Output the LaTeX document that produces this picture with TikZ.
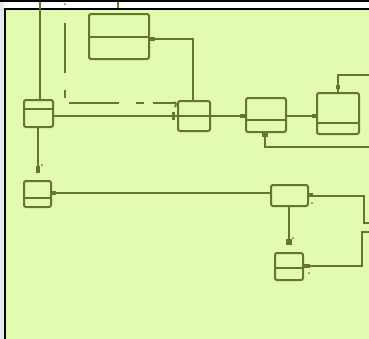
\documentclass[tikz,border=0pt]{standalone}
\usetikzlibrary{fit}
\definecolor{pane}{RGB}{226,251,176}
\definecolor{olive}{RGB}{98,118,44}
\definecolor{sidegray}{RGB}{232,232,232}
\tikzset{
  box/.style={draw=olive, line width=2bp, rounded corners=2bp, inner sep=0pt, fit={#1}},
  wire/.style={draw=olive, line width=1.9bp},
  dashwire/.style={draw=olive, line width=1.9bp, dash pattern=on 50bp off 17bp on 8bp off 9bp},
  tip/.style={fill=olive},
  speck/.style={fill=olive, circle, inner sep=0pt, minimum size=2bp}
}
\begin{document}
\begin{tikzpicture}[x=1bp, y=-1bp]
  \useasboundingbox (0,0) rectangle (369,339);
  % window frame
  \fill[white] (0,0) rectangle (369,339);
  \fill[sidegray] (0,2) rectangle (4,339);
  \fill[pane] (6,10) rectangle (369,339);
  \fill[black] (0,0) rectangle (369,2);
  \fill[black] (4,8) rectangle (369,10);
  \fill[black] (4,8) rectangle (6,339);

  % boxes
  \node[box={(24,100) (53,127)}] (A) {};
  \node[box={(178,101) (210,131)}] (B) {};
  \node[box={(246,98) (286,132)}] (C) {};
  \node[box={(89,14) (149,59)}] (D) {};
  \node[box={(317,93) (359,134)}] (E) {};
  \node[box={(24,181) (51,207)}] (F) {};
  \node[box={(271,185) (308,206)}] (G) {};
  \node[box={(275,253) (303,280)}] (H) {};

  % dividers
  \draw[wire] (24,109) -- (53,109);
  \draw[wire] (89,37) -- (149,37);
  \draw[wire] (246,120) -- (286,120);
  \draw[wire] (317,123) -- (359,123);
  \draw[wire] (24,198) -- (51,198);
  \draw[wire] (275,268) -- (303,268);

  % free ends
  \coordinate (topA) at (40,2);
  \coordinate (topB) at (118,2);
  \coordinate (topBend) at (118,8);
  \coordinate (dashStart) at (65,23);
  \coordinate (inE) at (369,75);
  \coordinate (inC) at (369,147);
  \coordinate (outG) at (369,223);
  \coordinate (inH) at (369,232);
  \coordinate (endAF) at (38,173);
  \coordinate (endGH) at (289,244);

  % connectors
  \draw[wire] (topA) -- (A.north -| topA);
  \draw[wire] (topB) -- (topBend);
  \draw[wire] (A.east |- 0,116) -- (C.west |- 0,116);
  \draw[wire] (C.east |- 0,116) -- (E.west |- 0,116);
  \draw[wire] (inE) -- (338,75) -- (E.north -| 338,0);
  \draw[wire] (inC) -- (265,147) -- (C.south -| 265,0);
  \draw[wire] (B.north -| 193,0) -- (193,39) -- (D.east |- 0,39);
  \draw[dashwire] (dashStart) -- (65,103) -- (173,103);
  \draw[wire] (173,103) .. controls (177,101) and (176,106) .. (175,107);
  \draw[wire] (A.south -| 38,0) -- (endAF);
  \draw[wire] (F.east |- 0,193) -- (G.west |- 0,193);
  \draw[wire] (G.south -| 289,0) -- (endGH);
  \draw[wire] (G.east |- 0,196) -- (364,196) -- (364,223) -- (outG);
  \draw[wire] (inH) -- (362,232) -- (362,266) -- (H.east |- 0,266);

  % end marks
  \fill[tip] (172,112) rectangle (174.5,120);
  \fill[tip] (240,114) rectangle (246,118);
  \fill[tip] (312,114) rectangle (317,118);
  \fill[tip] (336,85) rectangle (340,89);
  \fill[tip] (262,132) rectangle (268,137);
  \fill[tip] (149,37) rectangle (155,41);
  \fill[tip] (36,166) rectangle (40,173);
  \fill[tip] (51,191) rectangle (56,195);
  \fill[tip] (308,193) rectangle (313,197);
  \fill[tip] (286,239) rectangle (292,245);
  \fill[tip] (303,264) rectangle (310,268);

  % small specks
  \node[speck] (s1) at (65,4) {};
  \node[speck] (s2) at (42,165) {};
  \node[speck] (s3) at (312,203) {};
  \node[speck] (s4) at (293,238) {};
  \node[speck] (s5) at (309,273) {};
\end{tikzpicture}
\end{document}
